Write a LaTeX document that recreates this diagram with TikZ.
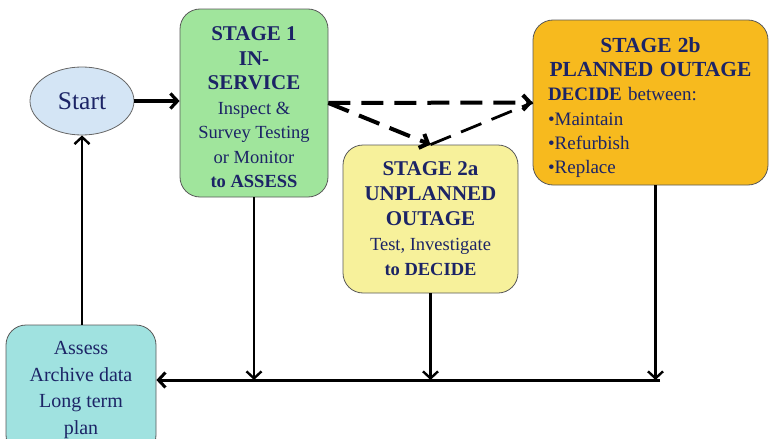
\documentclass[tikz,border=0pt]{standalone}
\usepackage{fontspec}
\setmainfont{Liberation Serif}
\usepackage{tikz}
\usetikzlibrary{positioning,arrows.meta,shapes.geometric}

\definecolor{inkblue}{RGB}{28,36,102}
\definecolor{startblue}{RGB}{212,229,245}
\definecolor{stageone}{RGB}{160,229,156}
\definecolor{stagetwoa}{RGB}{247,241,155}
\definecolor{stagetwob}{RGB}{247,186,30}
\definecolor{archteal}{RGB}{160,226,224}

\newcommand{\stagettl}{\fontsize{21}{24}\selectfont\bfseries}

\tikzset{
  stagebox/.style={draw=black!65,line width=0.8pt,rounded corners=20pt,
    text=inkblue,align=center,inner sep=0pt},
  flow/.style={->,line width=2.4pt},
  dashflow/.style={line width=4pt,dash pattern=on 22pt off 11pt},
}

\begin{document}
\begin{tikzpicture}[x=1pt,y=-1pt,>={Straight Barb[length=7pt,width=15pt]}]
  \useasboundingbox (0,0) rectangle (769,439);
  \clip (0,0) rectangle (769,439);

  % 開始
  \node[ellipse,draw=black!60,line width=0.8pt,fill=startblue,
    minimum width=104pt,minimum height=68pt,text=inkblue,
    font=\fontsize{25.5}{28}\selectfont] (start) at (82,101) {Start};

  % 段階 1
  \node[stagebox,fill=stageone,minimum width=148pt,minimum height=188pt,
    font=\fontsize{18.5}{24.5}\selectfont] (s1) at (254,103)
    {\mbox{}\\[-2pt]
     {\stagettl STAGE 1}\\ {\stagettl IN-}\\ {\stagettl SERVICE}\\
     Inspect \&\\ Survey Testing\\ or Monitor\\ \textbf{to ASSESS}};

  % 段階 2a
  \node[stagebox,fill=stagetwoa,minimum width=175pt,minimum height=148pt,
    font=\fontsize{18.5}{25}\selectfont] (s2a) at (430.5,219)
    {{\stagettl STAGE 2a}\\ {\stagettl UNPLANNED}\\ {\stagettl OUTAGE}\\
     Test, Investigate\\ \textbf{to DECIDE}};

  % 段階 2b
  \node[stagebox,fill=stagetwob,minimum width=235pt,minimum height=165pt,
    text width=205pt,align=left,font=\fontsize{19}{24.2}\selectfont]
    (s2b) at (650.5,102.5)
    {\mbox{}\\[1pt]
     \makebox[205pt]{\stagettl\fontsize{21.5}{24}\selectfont STAGE 2b}\\
     \makebox[205pt]{\stagettl\fontsize{21.5}{24}\selectfont PLANNED OUTAGE}\\
     \textbf{DECIDE} between:\\
     •Maintain\\ •Refurbish\\ •Replace};

  % 記録
  \node[stagebox,fill=archteal,minimum width=150pt,minimum height=130pt,
    font=\fontsize{20}{26.5}\selectfont] (arch) at (81,390)
    {Assess\\ Archive data\\ Long term\\ plan};

  % 実線の矢印
  \coordinate (busend) at (660,380);
  \draw[flow,line width=3.2pt] (start.east) -- (start.east -| s1.west);
  \draw[flow] (s1.south) -- (s1.south |- busend);
  \draw[flow] (s2a.south) -- (s2a.south |- busend);
  \draw[flow] ([xshift=5pt]s2b.south) -- ([xshift=5pt]s2b.south |- busend);
  \draw[flow,line width=3pt] (busend) -- (busend -| arch.east);
  \draw[flow] (arch.north -| start.south) -- (start.south);

  % 破線の矢印
  \draw[dashflow,->] (s1.east) -- (s2b.west);
  \draw[dashflow,->] (s1.east) -- (s2a.north);
  \draw[dashflow,line width=2.8pt] (s2a.north) -- (s2b.west);
\end{tikzpicture}
\end{document}
